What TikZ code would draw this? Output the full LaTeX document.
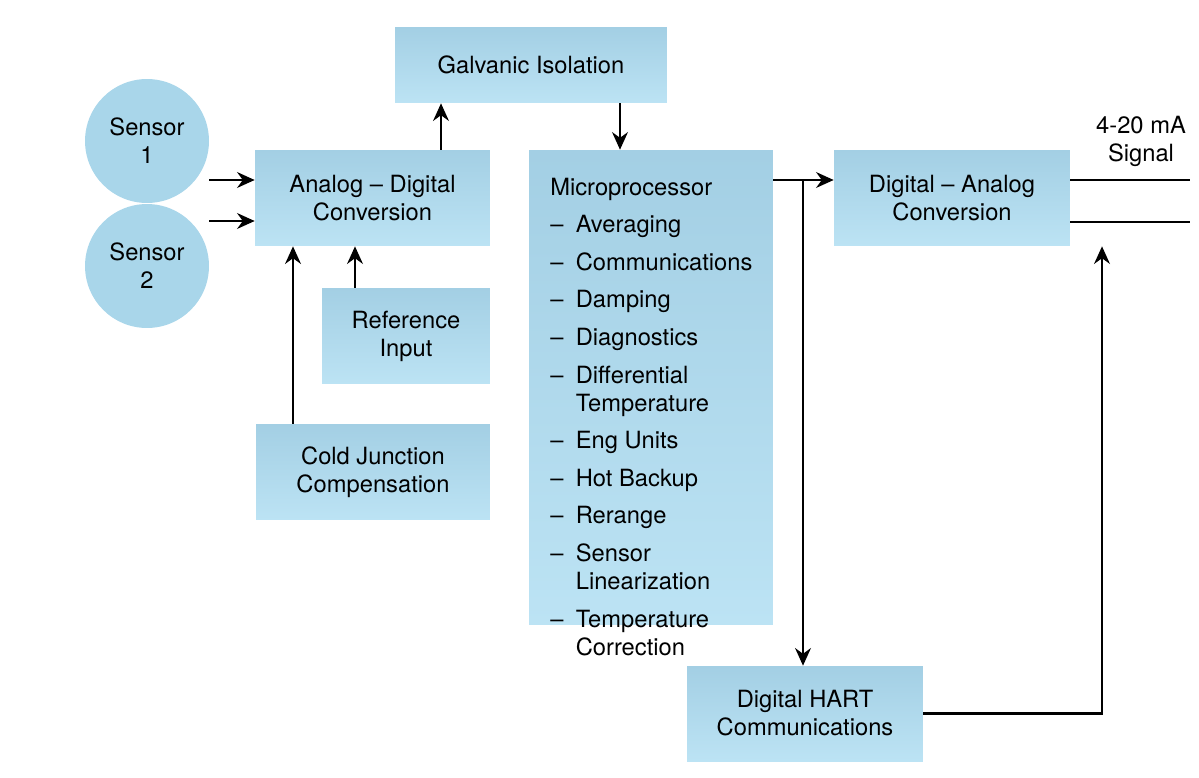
\documentclass[tikz,border=0pt]{standalone}
\usepackage{fontspec}
\setmainfont{TeX Gyre Heros}
\usetikzlibrary{arrows.meta, positioning}
\definecolor{boxtop}{HTML}{A3CFE4}
\definecolor{boxbot}{HTML}{BCE3F4}
\definecolor{circfill}{HTML}{A9D6EA}

\begin{document}
\begin{tikzpicture}[
  x=0.02cm, y=-0.02cm,
  every node/.style={font=\fontsize{13.5}{16}\selectfont, align=center},
  block/.style={top color=boxtop, bottom color=boxbot, inner sep=0pt},
  sensor/.style={circle, fill=circfill, minimum size=2.48cm},
  arrow/.style={-{Stealth[length=10pt, width=9pt]}, line width=1.2pt},
  line/.style={line width=1.2pt},
]
\useasboundingbox (0,0) rectangle (1199,777);

% Blocks
\node (galv)   [block, minimum width=5.44cm, minimum height=1.52cm] at (531,65)  {Galvanic Isolation};
\node (sens1)  [sensor] at (147,141) {Sensor\\1};
\node (sens2)  [sensor] at (147,266) {Sensor\\2};
\node (adc)    [block, minimum width=4.7cm, minimum height=1.92cm] at (372.5,198) {Analog -- Digital\\Conversion};
\node (ref)    [block, minimum width=3.36cm, minimum height=1.92cm] at (406,336) {Reference\\Input};
\node (cold)   [block, minimum width=4.68cm, minimum height=1.92cm] at (373,472) {Cold Junction\\Compensation};
\node (micro)  [block, minimum width=4.88cm, minimum height=9.5cm] at (651,387.5) {};
\node (dac)    [block, minimum width=4.72cm, minimum height=1.92cm] at (952,198) {Digital -- Analog\\Conversion};
\node (hart)   [block, minimum width=4.72cm, minimum height=1.9cm] at (805,713.5) {Digital HART\\Communications};
\node (sig)    at (1141,141) {4-20 mA\\Signal};

% Microprocessor list
\node (mlist) [anchor=north west, align=left, inner sep=0pt] at (550,175) {%
  \def\arraystretch{1}%
  \begin{tabular}{@{}l@{\hspace{7pt}}l@{}}
  \multicolumn{2}{@{}l}{Microprocessor}\\[5.4pt]
  -- & Averaging\\[5.4pt]
  -- & Communications\\[5.4pt]
  -- & Damping\\[5.4pt]
  -- & Diagnostics\\[5.4pt]
  -- & Differential\\
     & Temperature\\[5.4pt]
  -- & Eng Units\\[5.4pt]
  -- & Hot Backup\\[5.4pt]
  -- & Rerange\\[5.4pt]
  -- & Sensor\\
     & Linearization\\[5.4pt]
  -- & Temperature\\
     & Correction
  \end{tabular}};

% Connectors
\coordinate (branch) at (803,180);
\coordinate (out1) at (1190,180);
\coordinate (out2) at (1190,222);
\draw [arrow] (sens1.east |- 0,180) -- (adc.west |- 0,180);
\draw [arrow] (sens2.east |- 0,221) -- (adc.west |- 0,221);
\draw [arrow] (adc.north -| 441,0) -- (galv.south -| 441,0);
\draw [arrow] (galv.south -| 620,0) -- (micro.north -| 620,0);
\draw [arrow] (ref.north -| 355,0) -- (adc.south -| 355,0);
\draw [arrow] (cold.north -| 293,0) -- (adc.south -| 293,0);
\draw [arrow] (micro.east |- 0,180) -- (dac.west |- 0,180);
\draw [arrow] (branch) -- (hart.north -| branch);
\draw [arrow] (hart.east) -| (dac.south -| 1102,0);
\draw [line] (dac.east |- out1) -- (out1);
\draw [line] (dac.east |- out2) -- (out2);

\end{tikzpicture}
\end{document}
